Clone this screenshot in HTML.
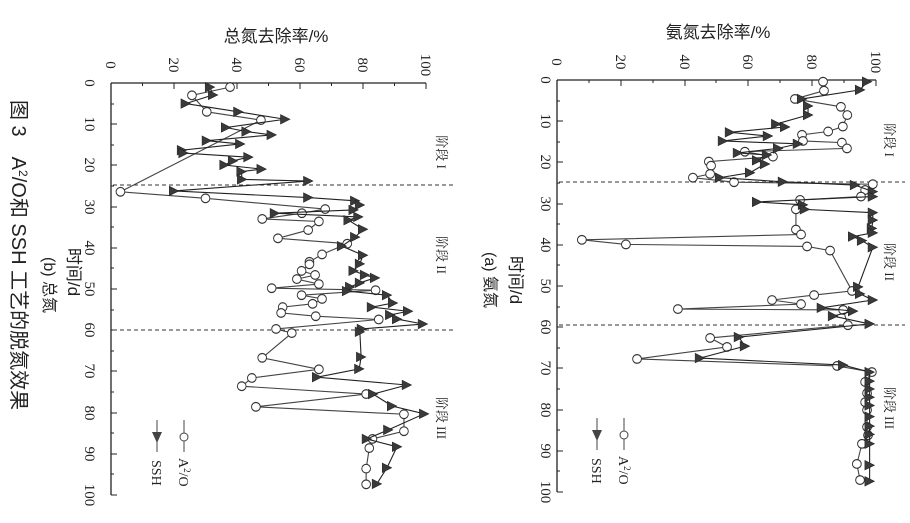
<!DOCTYPE html>
<html><head><meta charset="utf-8"><style>
html,body{margin:0;padding:0;background:#fff;}
svg{display:block;}
text{font-family:"Liberation Serif","Noto Serif CJK SC",serif;fill:#222;}
.cj{font-family:"Liberation Sans","Noto Sans CJK SC",sans-serif;}
</style></head><body>
<svg width="910" height="523" viewBox="0 0 910 523" xmlns="http://www.w3.org/2000/svg">
<defs>
<marker id="mc" markerUnits="userSpaceOnUse" markerWidth="10" markerHeight="10" refX="0" refY="0" overflow="visible" orient="0">
<ellipse cx="0" cy="0" rx="1.05" ry="1.38" fill="#fff" stroke="#333" stroke-width="0.3"/>
</marker>
<marker id="mt" markerUnits="userSpaceOnUse" markerWidth="10" markerHeight="10" refX="0" refY="0" overflow="visible" orient="0">
<polygon points="-1.15,-1.5 1.15,-1.5 0,1.5" fill="#3a3a3a" stroke="#222" stroke-width="0.15"/>
</marker>
</defs>

<!-- ===== Panel (b) total nitrogen ===== -->
<g stroke="#222" stroke-width="1.3" fill="none">
<line x1="111" y1="83" x2="426" y2="83"/>
<line x1="111" y1="83" x2="111" y2="495"/>
</g>
<g stroke="#222" stroke-width="1">
<line x1="174" y1="83" x2="174" y2="89"/><line x1="237" y1="83" x2="237" y2="89"/><line x1="300" y1="83" x2="300" y2="89"/><line x1="363" y1="83" x2="363" y2="89"/><line x1="426" y1="83" x2="426" y2="89"/>
<line x1="142.5" y1="83" x2="142.5" y2="86"/><line x1="205.5" y1="83" x2="205.5" y2="86"/><line x1="268.5" y1="83" x2="268.5" y2="86"/><line x1="331.5" y1="83" x2="331.5" y2="86"/><line x1="394.5" y1="83" x2="394.5" y2="86"/>
<line x1="111" y1="124" x2="117" y2="124"/><line x1="111" y1="165" x2="117" y2="165"/><line x1="111" y1="207" x2="117" y2="207"/><line x1="111" y1="248" x2="117" y2="248"/><line x1="111" y1="289" x2="117" y2="289"/><line x1="111" y1="330" x2="117" y2="330"/><line x1="111" y1="371" x2="117" y2="371"/><line x1="111" y1="413" x2="117" y2="413"/><line x1="111" y1="454" x2="117" y2="454"/><line x1="111" y1="495" x2="117" y2="495"/>
<line x1="111" y1="104" x2="114" y2="104"/><line x1="111" y1="145" x2="114" y2="145"/><line x1="111" y1="186" x2="114" y2="186"/><line x1="111" y1="227" x2="114" y2="227"/><line x1="111" y1="268" x2="114" y2="268"/><line x1="111" y1="310" x2="114" y2="310"/><line x1="111" y1="351" x2="114" y2="351"/><line x1="111" y1="392" x2="114" y2="392"/><line x1="111" y1="433" x2="114" y2="433"/><line x1="111" y1="474" x2="114" y2="474"/>
</g>
<g stroke="#333" stroke-width="1" stroke-dasharray="4,3">
<line x1="113" y1="185" x2="455" y2="185"/>
<line x1="113" y1="330" x2="455" y2="330"/>
</g>
<g transform="matrix(0 4.12 3.15 0 111 83)">
<polyline fill="none" stroke="#444" stroke-width="1.1" vector-effect="non-scaling-stroke" marker-start="url(#mc)" marker-mid="url(#mc)" marker-end="url(#mc)"
points="1,37.8 3,25.7 7,30.4 9,47.6 26.4,3 28,30 30.6,68 31.6,60.6 33,48 33.6,66 35.7,62.6 37.7,53 39,75 41.6,67 43.4,63 44,63 45.6,60.5 46.6,64.8 47.6,59 48.8,66 49.8,51 50.3,84 51.5,60.5 52.4,67 53.6,64 54.4,54.5 55.8,54 56.6,65 57.4,85 59.7,52.4 60.7,57.4 66.7,48 69.5,66 71.6,44.7 73.6,41.5 75.5,81 78.6,46 80.4,93 84.5,93 86.4,83 88.6,82 93.6,81 97.4,81"/>
<polyline fill="none" stroke="#222" stroke-width="1.1" vector-effect="non-scaling-stroke" marker-start="url(#mt)" marker-mid="url(#mt)" marker-end="url(#mt)"
points="1,31.4 2.9,32.4 5,23.7 7,40.4 8.8,55.3 10.8,36.5 11.8,43 12.6,51 14,30.4 14.8,41 16.3,22.5 17,23 18,43.6 18.9,38.7 19.9,36 20.9,47.8 21.5,41.4 23.4,41.6 23.8,62.6 26.2,20 27.8,62.6 28.6,77.5 29.6,79 30.8,77 31.6,52 32.5,78.5 33.3,75.4 35.5,80 37.4,77.5 39.6,73.3 41.8,80 43.9,79 45.6,77 46.6,80.6 47.3,83.8 48.5,79 49.5,75.9 50.5,74.9 51.5,87.6 53.4,89.5 54.4,82.8 55.4,94.3 56.3,88.6 57.3,90.8 58.5,99 59.7,79.6 60.4,79 66.5,79.4 69.4,78.8 71.4,65.4 73.3,93.9 75.5,83.2 78.4,89.2 80.3,99.4 84.2,88 86.4,81.2 88.3,90.8 93.4,87.6 97.3,84.4"/>
</g>
<g font-size="15">
<text transform="translate(106,65) rotate(90)" text-anchor="middle">0</text>
<text transform="translate(169,65) rotate(90)" text-anchor="middle">20</text>
<text transform="translate(232,65) rotate(90)" text-anchor="middle">40</text>
<text transform="translate(295,65) rotate(90)" text-anchor="middle">60</text>
<text transform="translate(358,65) rotate(90)" text-anchor="middle">80</text>
<text transform="translate(421,65) rotate(90)" text-anchor="middle">100</text>
<text transform="translate(85,83) rotate(90)" text-anchor="middle">0</text>
<text transform="translate(85,124) rotate(90)" text-anchor="middle">10</text>
<text transform="translate(85,165) rotate(90)" text-anchor="middle">20</text>
<text transform="translate(85,207) rotate(90)" text-anchor="middle">30</text>
<text transform="translate(85,248) rotate(90)" text-anchor="middle">40</text>
<text transform="translate(85,289) rotate(90)" text-anchor="middle">50</text>
<text transform="translate(85,330) rotate(90)" text-anchor="middle">60</text>
<text transform="translate(85,371) rotate(90)" text-anchor="middle">70</text>
<text transform="translate(85,413) rotate(90)" text-anchor="middle">80</text>
<text transform="translate(85,454) rotate(90)" text-anchor="middle">90</text>
<text transform="translate(85,495) rotate(90)" text-anchor="middle">100</text>
</g>
<text class="cj" x="276" y="42" font-size="17" text-anchor="middle">总氮去除率/%</text>
<g class="cj" font-size="13">
<text transform="translate(437,152) rotate(90)" text-anchor="middle">阶段 I</text>
<text transform="translate(437,255) rotate(90)" text-anchor="middle">阶段 II</text>
<text transform="translate(437,418) rotate(90)" text-anchor="middle">阶段 III</text>
</g>
<text class="cj" transform="translate(68,272) rotate(90)" font-size="17" text-anchor="middle">时间/d</text>
<text class="cj" transform="translate(44,285) rotate(90)" font-size="16" text-anchor="middle">(b) 总氮</text>
<g stroke="#444" stroke-width="1"><line x1="184" y1="420" x2="184" y2="452"/><line x1="157" y1="420" x2="157" y2="452"/></g>
<circle cx="184" cy="437" r="4" fill="#fff" stroke="#444"/>
<polygon points="152,432 162,432 157,443" fill="#444"/>
<text transform="translate(179,458) rotate(90)" font-size="14">A<tspan font-size="9" dy="-5">2</tspan><tspan dy="5">/O</tspan></text>
<text transform="translate(152,460) rotate(90)" font-size="14">SSH</text>

<!-- caption -->
<text class="cj" transform="translate(12,100) rotate(90)" font-size="20">图 3　A<tspan font-size="12" dy="-7">2</tspan><tspan dy="7">/O和 SSH 工艺的脱氮效果</tspan></text>

<!-- ===== Panel (a) ammonia ===== -->
<g stroke="#222" stroke-width="1.3" fill="none">
<line x1="557" y1="80" x2="876" y2="80"/>
<line x1="557" y1="80" x2="557" y2="492"/>
</g>
<g stroke="#222" stroke-width="1">
<line x1="621" y1="80" x2="621" y2="86"/><line x1="685" y1="80" x2="685" y2="86"/><line x1="748" y1="80" x2="748" y2="86"/><line x1="812" y1="80" x2="812" y2="86"/><line x1="876" y1="80" x2="876" y2="86"/>
<line x1="589" y1="80" x2="589" y2="83"/><line x1="653" y1="80" x2="653" y2="83"/><line x1="716" y1="80" x2="716" y2="83"/><line x1="780" y1="80" x2="780" y2="83"/><line x1="844" y1="80" x2="844" y2="83"/>
<line x1="557" y1="121" x2="563" y2="121"/><line x1="557" y1="162" x2="563" y2="162"/><line x1="557" y1="204" x2="563" y2="204"/><line x1="557" y1="245" x2="563" y2="245"/><line x1="557" y1="286" x2="563" y2="286"/><line x1="557" y1="327" x2="563" y2="327"/><line x1="557" y1="368" x2="563" y2="368"/><line x1="557" y1="410" x2="563" y2="410"/><line x1="557" y1="451" x2="563" y2="451"/><line x1="557" y1="492" x2="563" y2="492"/>
<line x1="557" y1="101" x2="560" y2="101"/><line x1="557" y1="142" x2="560" y2="142"/><line x1="557" y1="183" x2="560" y2="183"/><line x1="557" y1="224" x2="560" y2="224"/><line x1="557" y1="265" x2="560" y2="265"/><line x1="557" y1="307" x2="560" y2="307"/><line x1="557" y1="348" x2="560" y2="348"/><line x1="557" y1="389" x2="560" y2="389"/><line x1="557" y1="430" x2="560" y2="430"/><line x1="557" y1="471" x2="560" y2="471"/>
</g>
<g stroke="#333" stroke-width="1" stroke-dasharray="4,3">
<line x1="559" y1="182" x2="905" y2="182"/>
<line x1="559" y1="325" x2="905" y2="325"/>
</g>
<g transform="matrix(0 4.12 3.19 0 557 80)">
<polyline fill="none" stroke="#444" stroke-width="1.1" vector-effect="non-scaling-stroke" marker-start="url(#mc)" marker-mid="url(#mc)" marker-end="url(#mc)"
points="0.4,83.4 2.6,83.7 4.6,74.6 6.5,89 8.5,91 11.3,89.6 12.5,85 13.3,76.8 14.8,77.1 15.2,89.3 16.6,90.9 17.4,58.9 18.6,67.7 19.8,47.6 20.8,48.3 22.8,48 23.7,42.6 24.8,55.5 25.3,99 26.7,96.6 28.3,95.3 29.1,76.2 31.4,74.9 36.3,74.9 37.5,76.5 38.8,7.8 39.9,21.6 40.4,78.4 41.4,85.6 51.2,92.5 52.2,80.6 53.4,67.4 54.4,76.5 55.6,37.9 55.8,89.7 59.5,91.2 62.6,48 64.8,53.3 67.7,25.1 69.4,87.8 70.9,98.7 73.3,96.6 76,97.2 78.2,96.6 80.1,97.2 84.2,97.2 86.2,97.5 88.3,95.6 93.2,94 97.1,95"/>
<polyline fill="none" stroke="#222" stroke-width="1.1" vector-effect="non-scaling-stroke" marker-start="url(#mt)" marker-mid="url(#mt)" marker-end="url(#mt)"
points="0.4,97.2 2.4,95 4.6,76.8 6.3,78.7 8.5,78.7 10.7,68.7 11.4,71.5 12.7,54.2 13.6,66.1 14.8,52 15.5,75.5 16.6,69.3 17.7,56.7 18.2,65.8 19.5,62.7 20.4,65.2 22.5,60.5 23.7,51.1 24.7,70.8 25.5,93.4 27.1,99 28.3,99 29.6,62.7 30.3,77.1 31.4,77.7 32.2,99 34,99 36,98.7 37.1,99 38,92.8 39,95.6 40.6,99 50.2,94.4 51.9,95 53.4,99 55.3,83 56.1,92.8 57.3,86.5 59.2,98 62.4,57 64.6,58.9 67.5,44.8 69.2,89.7 70.9,98 73.1,98 75,98 77,98 79,98 81.7,98 84,98 86,98 88.3,98 93.5,98 97.4,98"/>
</g>
<g font-size="15">
<text transform="translate(552,62) rotate(90)" text-anchor="middle">0</text>
<text transform="translate(616,62) rotate(90)" text-anchor="middle">20</text>
<text transform="translate(680,62) rotate(90)" text-anchor="middle">40</text>
<text transform="translate(743,62) rotate(90)" text-anchor="middle">60</text>
<text transform="translate(807,62) rotate(90)" text-anchor="middle">80</text>
<text transform="translate(871,62) rotate(90)" text-anchor="middle">100</text>
<text transform="translate(541,80) rotate(90)" text-anchor="middle">0</text>
<text transform="translate(541,121) rotate(90)" text-anchor="middle">10</text>
<text transform="translate(541,162) rotate(90)" text-anchor="middle">20</text>
<text transform="translate(541,204) rotate(90)" text-anchor="middle">30</text>
<text transform="translate(541,245) rotate(90)" text-anchor="middle">40</text>
<text transform="translate(541,286) rotate(90)" text-anchor="middle">50</text>
<text transform="translate(541,327) rotate(90)" text-anchor="middle">60</text>
<text transform="translate(541,368) rotate(90)" text-anchor="middle">70</text>
<text transform="translate(541,410) rotate(90)" text-anchor="middle">80</text>
<text transform="translate(541,451) rotate(90)" text-anchor="middle">90</text>
<text transform="translate(541,492) rotate(90)" text-anchor="middle">100</text>
</g>
<text class="cj" x="718" y="38" font-size="17" text-anchor="middle">氨氮去除率/%</text>
<g class="cj" font-size="13">
<text transform="translate(885,140) rotate(90)" text-anchor="middle">阶段 I</text>
<text transform="translate(885,262) rotate(90)" text-anchor="middle">阶段 II</text>
<text transform="translate(885,408) rotate(90)" text-anchor="middle">阶段 III</text>
</g>
<text class="cj" transform="translate(510,280) rotate(90)" font-size="17" text-anchor="middle">时间/d</text>
<text class="cj" transform="translate(485,280) rotate(90)" font-size="16" text-anchor="middle">(a) 氨氮</text>
<g stroke="#444" stroke-width="1"><line x1="624" y1="418" x2="624" y2="450"/><line x1="597" y1="418" x2="597" y2="450"/></g>
<circle cx="624" cy="435" r="4" fill="#fff" stroke="#444"/>
<polygon points="592,430 602,430 597,441" fill="#444"/>
<text transform="translate(619,456) rotate(90)" font-size="14">A<tspan font-size="9" dy="-5">2</tspan><tspan dy="5">/O</tspan></text>
<text transform="translate(592,458) rotate(90)" font-size="14">SSH</text>
</svg>
</body></html>
